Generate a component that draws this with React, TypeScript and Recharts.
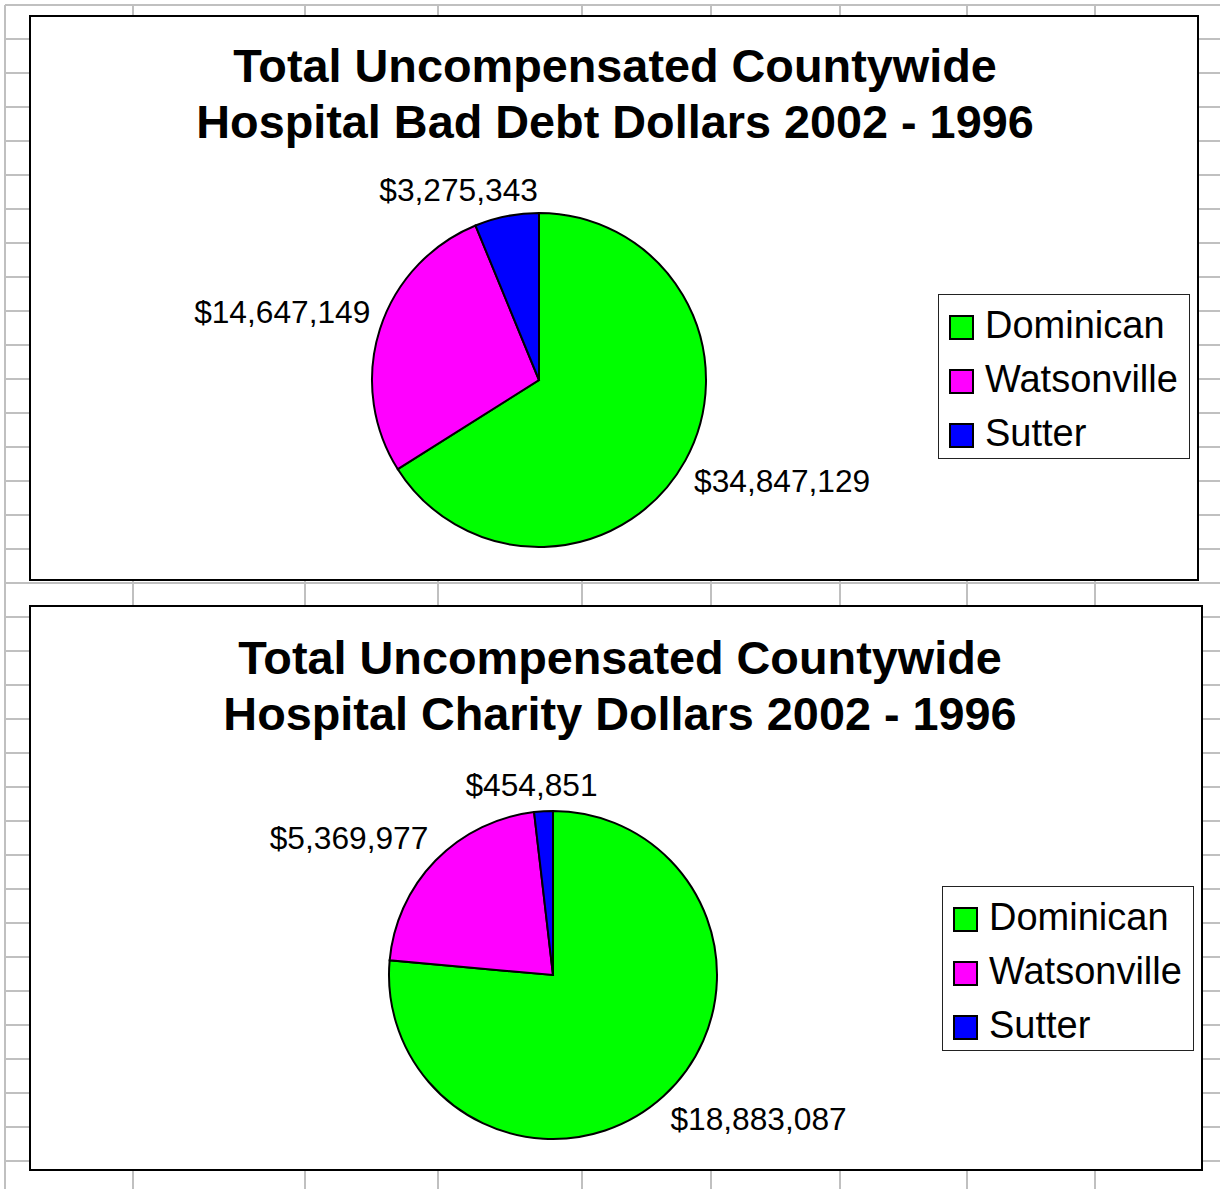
import React from "react";
import { PieChart, Pie, Cell, Legend } from "recharts";

const hospitals = ["Dominican", "Watsonville", "Sutter"];
const badDebtValues = [34847129, 14647149, 3275343];
const charityValues = [18883087, 5369977, 454851];
const sliceColors = ["#00ff00", "#ff00ff", "#0000ff"];

const badDebtTitle = ["Total Uncompensated Countywide", "Hospital Bad Debt Dollars 2002 - 1996"];
const charityTitle = ["Total Uncompensated Countywide", "Hospital Charity Dollars 2002 - 1996"];

const FONT = "Arial, 'Liberation Sans', Helvetica, sans-serif";
const LABEL_SIZE = 31.7;
const LEGEND_SIZE = 38;

// spreadsheet grid behind the charts
const gridCols = [5, 133, 305, 438, 582, 711, 840, 967, 1095];
const gridRows = Array.from({ length: 35 }, (_, i) => 5 + i * 34);

const badDebtData = hospitals.map((name, i) => ({ name, value: badDebtValues[i] }));
const charityData = hospitals.map((name, i) => ({ name, value: charityValues[i] }));

const money = (v: number) => "$" + v.toLocaleString("en-US");

// rough Arial width for "$1,234" strings
const labelWidth = (s: string) =>
  s.split("").reduce((w, ch) => w + (ch === "," ? 0.278 : 0.556), 0) * LABEL_SIZE;

const clamp = (v: number) => Math.max(-1, Math.min(1, v));

const renderLabel = (props: any) => {
  const { cx, cy, midAngle, outerRadius, value } = props;
  const rad = Math.PI / 180;
  const cos = Math.cos(-midAngle * rad);
  const sin = Math.sin(-midAngle * rad);
  const r = outerRadius + 10;
  const px = cx + r * cos;
  const py = cy + r * sin;
  const text = money(value);
  const w = labelWidth(text);
  const h = 32;
  const x = px + (clamp(cos * 3) * w) / 2;
  const y = py + (clamp(sin * 3) * h) / 2;
  return (
    <text
      x={x}
      y={y + 11}
      textAnchor="middle"
      fontFamily={FONT}
      fontSize={LABEL_SIZE}
      fill="#000"
    >
      {text}
    </text>
  );
};

const renderLegend = (props: any) => {
  const items = [...(props.payload || [])].sort(
    (a: any, b: any) => hospitals.indexOf(a.value) - hospitals.indexOf(b.value)
  );
  return (
    <div
      style={{
        width: 252,
        height: 165,
        boxSizing: "border-box",
        border: "1.5px solid #222",
        background: "#fff",
        paddingTop: 3,
        fontFamily: FONT,
      }}
    >
      {items.map((entry: any) => (
        <div
          key={entry.value}
          style={{ height: 54, display: "flex", alignItems: "center" }}
        >
          <div
            style={{
              width: 25,
              height: 25,
              boxSizing: "border-box",
              border: "2px solid #000",
              background: entry.color,
              marginLeft: 10,
              marginRight: 11,
              marginTop: 4,
            }}
          />
          <span style={{ fontSize: LEGEND_SIZE, lineHeight: "54px", color: "#000" }}>
            {entry.value}
          </span>
        </div>
      ))}
    </div>
  );
};

interface PanelProps {
  data: Array<{ name: string; value: number }>;
  left: number;
  top: number;
  width: number;
  height: number;
  cx: number;
  cy: number;
  radius: number;
  legendLeft: number;
  legendTop: number;
}

const PiePanel = (props: PanelProps) => {
  return (
    <div style={{ position: "absolute", left: props.left, top: props.top }}>
      <PieChart
        width={props.width}
        height={props.height}
        margin={{ top: 0, right: 0, bottom: 0, left: 0 }}
      >
        <Pie
          data={props.data}
          dataKey="value"
          nameKey="name"
          cx={props.cx}
          cy={props.cy}
          outerRadius={props.radius}
          startAngle={90}
          endAngle={-270}
          stroke="#000"
          strokeWidth={2}
          label={renderLabel}
          labelLine={false}
          isAnimationActive={false}
        >
          {props.data.map((d, i) => (
            <Cell key={d.name} fill={sliceColors[i]} />
          ))}
        </Pie>
        <Legend
          layout="vertical"
          align="right"
          verticalAlign="middle"
          itemSorter={null as any}
          content={renderLegend}
          wrapperStyle={{ left: props.legendLeft, top: props.legendTop, width: 252 }}
        />
      </PieChart>
    </div>
  );
};

const Title = (props: { lines: string[]; x: number; y: number }) => (
  <g>
    {props.lines.map((line, i) => (
      <text
        key={i}
        x={props.x}
        y={props.y + i * 56}
        textAnchor="middle"
        fontFamily={FONT}
        fontWeight="bold"
        fontSize={46.8}
        fill="#000"
      >
        {line}
      </text>
    ))}
  </g>
);

const App = () => {
  return (
    <div
      style={{
        position: "absolute",
        left: 0,
        top: 0,
        width: 1220,
        height: 1189,
        background: "#fff",
        overflow: "hidden",
      }}
    >
      <svg width={1220} height={1189} style={{ position: "absolute", left: 0, top: 0 }}>
        {gridRows.map((y) => (
          <line key={"r" + y} x1={5} x2={1220} y1={y} y2={y} stroke="#c0c0c0" strokeWidth={2} />
        ))}
        {gridCols.map((x) => (
          <line key={"c" + x} x1={x} x2={x} y1={5} y2={1189} stroke="#c0c0c0" strokeWidth={2} />
        ))}
        <rect x={30} y={16} width={1168} height={564} fill="#fff" stroke="#000" strokeWidth={2} />
        <rect x={30} y={606} width={1172} height={564} fill="#fff" stroke="#000" strokeWidth={2} />
        <Title lines={badDebtTitle} x={615} y={82} />
        <Title lines={charityTitle} x={620} y={674} />
      </svg>
      <PiePanel
        data={badDebtData}
        left={31}
        top={17}
        width={1166}
        height={562}
        cx={508}
        cy={363}
        radius={167}
        legendLeft={907}
        legendTop={277}
      />
      <PiePanel
        data={charityData}
        left={31}
        top={607}
        width={1170}
        height={562}
        cx={522}
        cy={368}
        radius={164}
        legendLeft={911}
        legendTop={279}
      />
    </div>
  );
};

export default App;
